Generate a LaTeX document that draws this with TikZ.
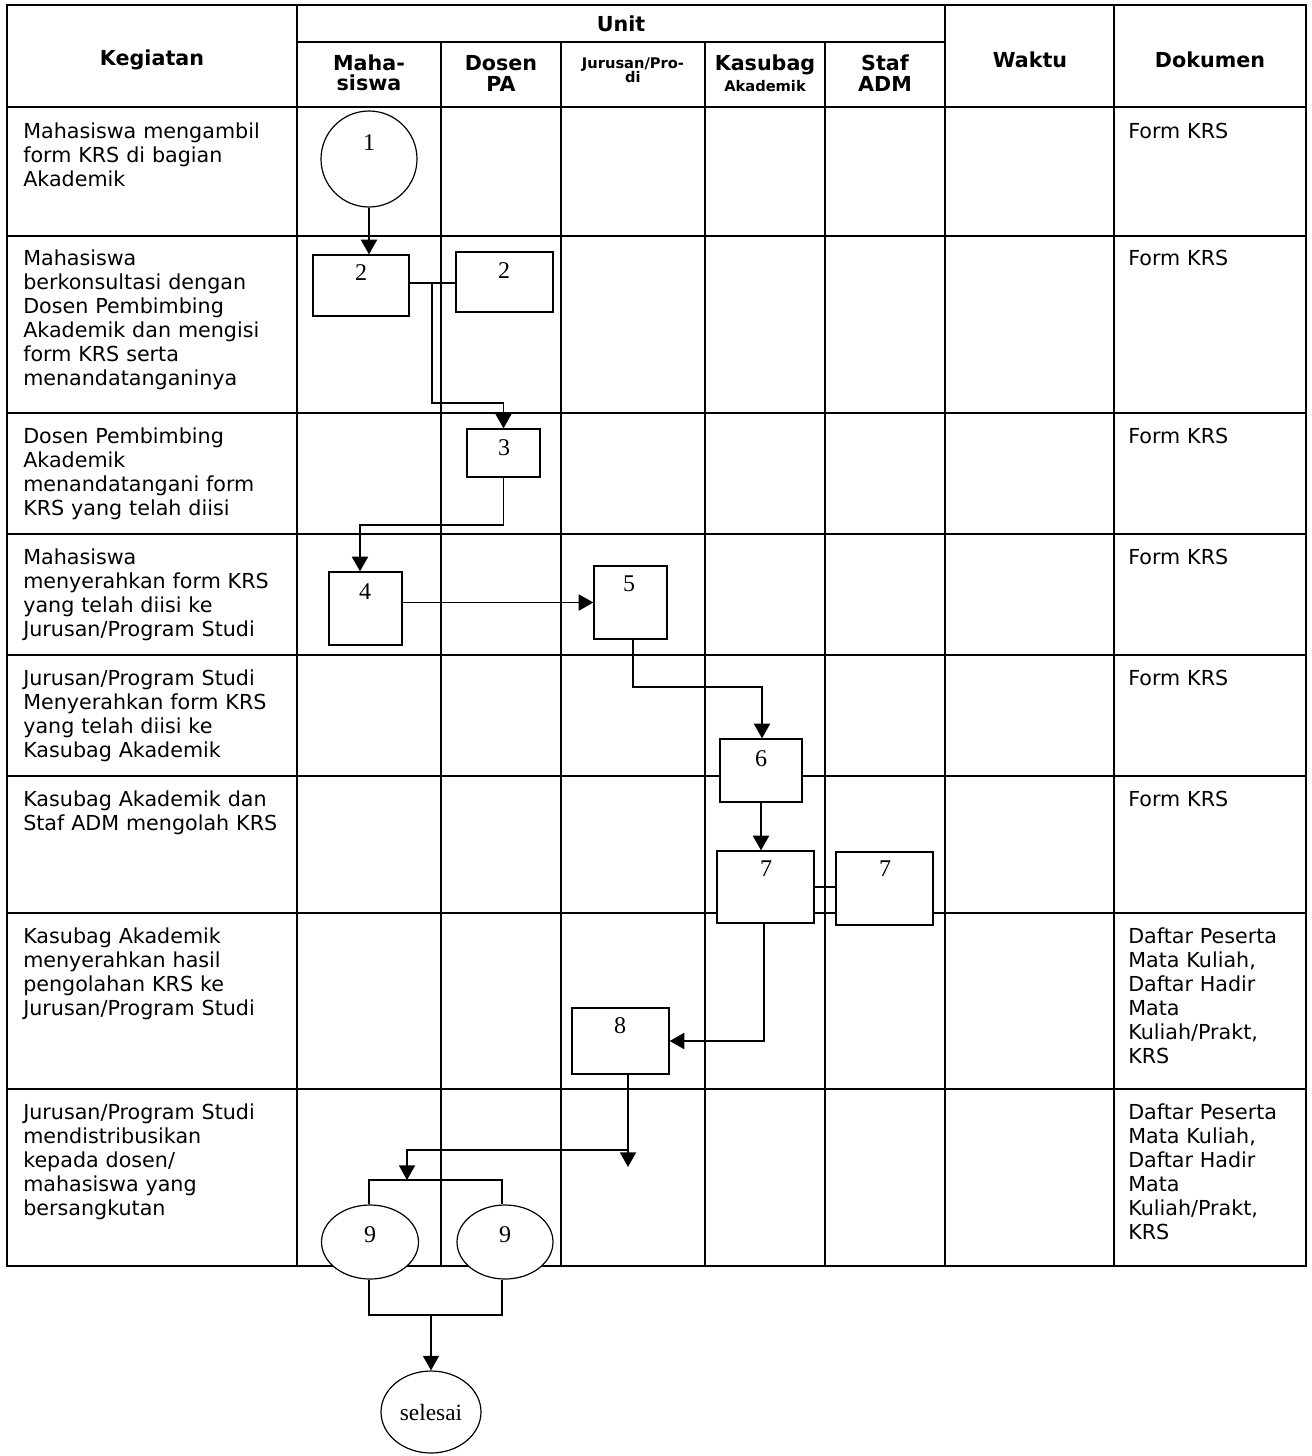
\documentclass[tikz,border=0pt]{standalone}
\usepackage{fontspec}
\setmainfont{DejaVu Sans}
\newfontfamily\serifnum{Liberation Serif}
\usetikzlibrary{arrows.meta,calc,shapes.geometric}
\tikzset{
  gridline/.style={line width=1.5pt},
  box/.style={draw, fill=white, line width=0.9pt, inner sep=0pt, rectangle},
  oval/.style={draw, fill=white, line width=0.9pt, inner sep=0pt, ellipse},
  num/.style={font=\serifnum\fontsize{18pt}{20pt}\selectfont, inner sep=0pt},
  conn/.style={line width=1.4pt, -{Triangle[width=12pt,length=11pt]}},
  link/.style={line width=0.9pt},
  kg/.style={anchor=base west, text width=210pt, align=left, inner sep=0pt, font=\fontsize{15.5pt}{18pt}\selectfont},
  dok/.style={anchor=base west, text width=132pt, align=left, inner sep=0pt, font=\fontsize{15.5pt}{18pt}\selectfont},
  hd/.style={font=\bfseries\fontsize{15.5pt}{16pt}\selectfont, inner sep=0pt},
  hdb/.style={hd, anchor=base},
  hds/.style={font=\bfseries\fontsize{11pt}{13pt}\selectfont, inner sep=0pt, anchor=base},
}
\begin{document}
\begin{tikzpicture}[x=0.75pt, y=-0.75pt]
\useasboundingbox (0,0) rectangle (1312,1456);
% ---------- table grid ----------
\draw[gridline] (7,5) rectangle (1306,1266);
\draw[gridline] (297,5) -- (297,1266);
\draw[gridline] (945,5) -- (945,1266);
\draw[gridline] (1114,5) -- (1114,1266);
\draw[gridline] (297,42) -- (945,42);
\foreach \x in {441,561,705,825} \draw[gridline] (\x,42) -- (\x,1266);
\foreach \y in {107,236,413,534,655,776,913,1089} \draw[gridline] (7,\y) -- (1306,\y);
% ---------- header ----------
\node[hd] (hKeg) at (152,60) {Kegiatan};
\node[hd] (hUnit) at (621,24) {Unit};
\node[hd] (hWaktu) at (1030,60) {Waktu};
\node[hd] (hDok) at (1210,60) {Dokumen};
\node[hdb] (hMa1) at (369,70) {Maha-};
\node[hdb] (hMa2) at (369,90) {siswa};
\node[hdb] (hDo1) at (501,70) {Dosen};
\node[hdb] (hDo2) at (501,91) {PA};
\node[hds] (hJu1) at (633,68) {Jurusan/Pro-};
\node[hds] (hJu2) at (633,82) {di};
\node[hdb] (hKa1) at (765,70) {Kasubag};
\node[hds] (hKa2) at (765,91) {Akademik};
\node[hdb] (hSt1) at (885,70) {Staf};
\node[hdb] (hSt2) at (885,91) {ADM};
% ---------- Kegiatan column ----------
\node[kg] (k1) at (23,138) {Mahasiswa mengambil\\form KRS di bagian\\Akademik};
\node[kg] (k2) at (23,265) {Mahasiswa\\berkonsultasi dengan\\Dosen Pembimbing\\Akademik dan mengisi\\form KRS serta\\menandatanganinya};
\node[kg] (k3) at (23,443) {Dosen Pembimbing\\Akademik\\menandatangani form\\KRS yang telah diisi};
\node[kg] (k4) at (23,564) {Mahasiswa\\menyerahkan form KRS\\yang telah diisi ke\\Jurusan/Program Studi};
\node[kg] (k5) at (23,685) {Jurusan/Program Studi\\Menyerahkan form KRS\\yang telah diisi ke\\Kasubag Akademik};
\node[kg] (k6) at (23,806) {Kasubag Akademik dan\\Staf ADM mengolah KRS};
\node[kg] (k7) at (23,943) {Kasubag Akademik\\menyerahkan hasil\\pengolahan KRS ke\\Jurusan/Program Studi};
\node[kg] (k8) at (23,1119) {Jurusan/Program Studi\\mendistribusikan\\kepada dosen/\\mahasiswa yang\\bersangkutan};
% ---------- Dokumen column ----------
\node[dok] (d1) at (1128,138) {Form KRS};
\node[dok] (d2) at (1128,265) {Form KRS};
\node[dok] (d3) at (1128,443) {Form KRS};
\node[dok] (d4) at (1128,564) {Form KRS};
\node[dok] (d5) at (1128,685) {Form KRS};
\node[dok] (d6) at (1128,806) {Form KRS};
\node[dok] (d7) at (1128,943) {Daftar Peserta\\Mata Kuliah,\\Daftar Hadir\\Mata\\Kuliah/Prakt,\\KRS};
\node[dok] (d8) at (1128,1119) {Daftar Peserta\\Mata Kuliah,\\Daftar Hadir\\Mata\\Kuliah/Prakt,\\KRS};
% ---------- flow shapes ----------
\node[oval, minimum width=72pt, minimum height=72pt] (c1) at (369,159) {};
\node[box, minimum width=72pt, minimum height=45.75pt] (b2l) at (361,285.5) {};
\node[box, minimum width=72.75pt, minimum height=45pt] (b2r) at (504.5,282) {};
\node[box, minimum width=54.75pt, minimum height=36pt] (b3) at (503.5,453) {};
\node[box, minimum width=54.75pt, minimum height=54.75pt] (b4) at (365.5,608.5) {};
\node[box, minimum width=54.75pt, minimum height=54.75pt] (b5) at (630.5,602.5) {};
\node[box, minimum width=61.5pt, minimum height=47.25pt] (b6) at (761,770.5) {};
\node[box, minimum width=72.75pt, minimum height=54pt] (b7l) at (765.5,887) {};
\node[box, minimum width=72.75pt, minimum height=54.75pt] (b7r) at (884.5,888.5) {};
\node[box, minimum width=72.75pt, minimum height=49.5pt] (b8) at (620.5,1041) {};
\node[oval, minimum width=72.75pt, minimum height=55.5pt] (e9l) at (370,1242) {};
\node[oval, minimum width=72pt, minimum height=55.5pt] (e9r) at (505,1242) {};
\node[oval, minimum width=75pt, minimum height=61.5pt, font=\serifnum\fontsize{17.5pt}{20pt}\selectfont] (esel) at (431,1412) {selesai};
% ---------- numbers ----------
\node[num] (n1) at (369,143) {1};
\node[num] (n2l) at (361,273) {2};
\node[num] (n2r) at (504,271) {2};
\node[num] (n3) at (504,448) {3};
\node[num] (n4) at (365,592) {4};
\node[num] (n5) at (629,584) {5};
\node[num] (n6) at (761,759) {6};
\node[num] (n7l) at (766,869) {7};
\node[num] (n7r) at (885,869) {7};
\node[num] (n8) at (620,1026) {8};
\node[num] (n9l) at (370,1235) {9};
\node[num] (n9r) at (505,1235) {9};
% ---------- connectors ----------
\draw[conn] (c1.south) -- (c1.south |- b2l.north);
\draw[link] (b2l.east |- 0,283) -- (b2r.west |- 0,283);
\coordinate (j2) at (432,283);
\draw[conn] (j2) -- (432,403) -| (b3.north);
\draw[conn] (b3.south) -- (503.5,525) -| ($(b4.north)+(-5.5,0)$);
\draw[conn] (b4.east |- b5.west) -- (b5.west);
\draw[conn] ($(b5.south)+(2.5,0)$) -- (633,687) -| ($(b6.north)+(1,0)$);
\draw[conn] (b6.south) -- (b6.south |- b7l.north);
\draw[link] (b7l.east) -- (b7r.west |- b7l.east);
\draw[conn] ($(b7l.south)+(-1.5,0)$) |- (b8.east);
\coordinate (d8end) at (628,1167);
\draw[conn] ($(b8.south)+(7.5,0)$) -- (d8end);
\coordinate (brtop) at (407,1180);
\draw[conn] (628,1150) -- (407,1150) -- (brtop);
\draw[link] (e9l.north -| 369,0) -- (369,1180) -- (502,1180) -- (e9r.north -| 502,0);
\draw[link] (e9l.south -| 369,0) -- (369,1315) -- (502,1315) -- (e9r.south -| 502,0);
\coordinate (brbot) at (431,1315);
\draw[conn] (brbot) -- (esel.north);
\end{tikzpicture}
\end{document}
